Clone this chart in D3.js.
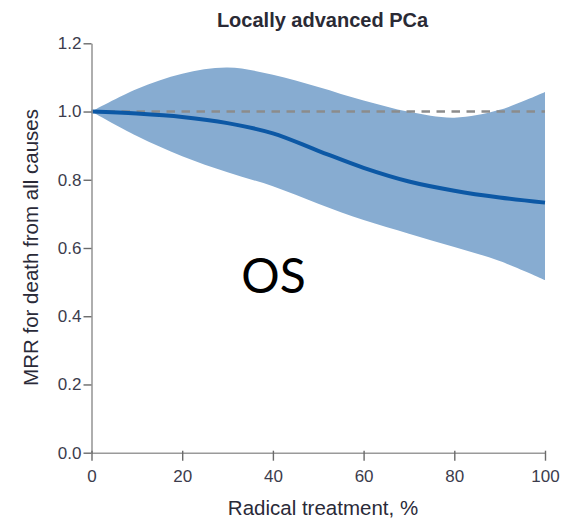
<!DOCTYPE html>
<html>
<head>
<meta charset="utf-8">
<script src="https://cdn.jsdelivr.net/npm/d3@7"></script>
<style>
  body { margin: 0; background: #fff; }
  svg { display: block; }
</style>
</head>
<body>
<div id="chart"></div>
<script>
// Valeurs
const treatment = [0, 10, 20, 30, 40, 50, 60, 70, 80, 90, 100];
const mrr = [1.0, 0.994, 0.984, 0.966, 0.936, 0.885, 0.835, 0.795, 0.768, 0.748, 0.733];
const upperCI = [1.0, 1.066, 1.111, 1.129, 1.108, 1.072, 1.032, 0.999, 0.982, 1.005, 1.057];
const lowerCI = [1.0, 0.928, 0.869, 0.822, 0.781, 0.730, 0.682, 0.642, 0.603, 0.562, 0.506];
const xTicks = [0, 20, 40, 60, 80, 100];
const yTicks = [0.0, 0.2, 0.4, 0.6, 0.8, 1.0, 1.2];

const config = {
  width: 562,
  height: 518,
  margin: { left: 91.5, top: 43.3, right: 17, bottom: 65.3 }
};
const innerW = config.width - config.margin.left - config.margin.right;
const innerH = config.height - config.margin.top - config.margin.bottom;

const svg = d3.select('#chart').append('svg')
  .attr('width', config.width)
  .attr('height', config.height);
const g = svg.append('g')
  .attr('transform', `translate(${config.margin.left}, ${config.margin.top})`);

const xScale = d3.scaleLinear().domain([0, 100]).range([0, innerW]);
const yScale = d3.scaleLinear().domain([0, 1.2]).range([innerH, 0]);

const data = treatment.map((t, i) => ({ t: t, m: mrr[i], lo: lowerCI[i], hi: upperCI[i] }));
const smooth = d3.curveCatmullRom.alpha(0.5);

// Bande de confiance
const area = d3.area()
  .x(d => xScale(d.t))
  .y0(d => yScale(d.lo))
  .y1(d => yScale(d.hi))
  .curve(smooth);
g.append('path')
  .datum(data)
  .attr('d', area)
  .attr('fill', '#87acd1');

// Ligne de référence
g.append('line')
  .attr('x1', xScale(0)).attr('x2', xScale(100))
  .attr('y1', yScale(1)).attr('y2', yScale(1))
  .attr('stroke', '#8c8c8c')
  .attr('stroke-width', 2.4)
  .attr('stroke-dasharray', '8.5,6.5');

// Courbe principale
const line = d3.line()
  .x(d => xScale(d.t))
  .y(d => yScale(d.m))
  .curve(smooth);
g.append('path')
  .datum(data)
  .attr('d', line)
  .attr('fill', 'none')
  .attr('stroke', '#0c58a5')
  .attr('stroke-width', 4);

// Axes
const yAxis = g.append('g').attr('class', 'y axis')
  .call(d3.axisLeft(yScale).tickValues(yTicks).tickFormat(d3.format('.1f')).tickSize(8).tickSizeOuter(0).tickPadding(2));
const xAxis = g.append('g').attr('class', 'x axis')
  .attr('transform', `translate(0, ${innerH})`)
  .call(d3.axisBottom(xScale).tickValues(xTicks).tickSize(8).tickSizeOuter(0).tickPadding(9));

g.selectAll('.axis path.domain').attr('stroke', '#9a9a9a').attr('stroke-width', 1.6);
g.selectAll('.axis .tick line').attr('stroke', '#6a6a6a').attr('stroke-width', 1.4);
xAxis.selectAll('.tick line').attr('y1', -2);
g.selectAll('.axis .tick text')
  .attr('font-family', 'Liberation Sans, Arial, sans-serif')
  .attr('font-size', 17)
  .attr('fill', '#3c3c4c');

// Titres
svg.append('text')
  .text('Locally advanced PCa')
  .attr('x', 322.5).attr('y', 27)
  .attr('text-anchor', 'middle')
  .attr('font-family', 'Liberation Sans, Arial, sans-serif')
  .attr('font-weight', 'bold')
  .attr('font-size', 20)
  .attr('fill', '#2a2a35');

svg.append('text')
  .text('Radical treatment, %')
  .attr('x', 323).attr('y', 515)
  .attr('text-anchor', 'middle')
  .attr('font-family', 'Liberation Sans, Arial, sans-serif')
  .attr('font-size', 20.5)
  .attr('fill', '#2a2a38');

svg.append('text')
  .text('MRR for death from all causes')
  .attr('transform', 'translate(37.5, 247.5) rotate(-90)')
  .attr('text-anchor', 'middle')
  .attr('font-family', 'Liberation Sans, Arial, sans-serif')
  .attr('font-size', 20.5)
  .attr('fill', '#2a2a38');

svg.append('text')
  .text('OS')
  .attr('x', 273.5).attr('y', 293)
  .attr('text-anchor', 'middle')
  .attr('font-family', 'Lato, Open Sans, sans-serif')
  .attr('font-size', 48)
  .attr('fill', '#000');
</script>
</body>
</html>
